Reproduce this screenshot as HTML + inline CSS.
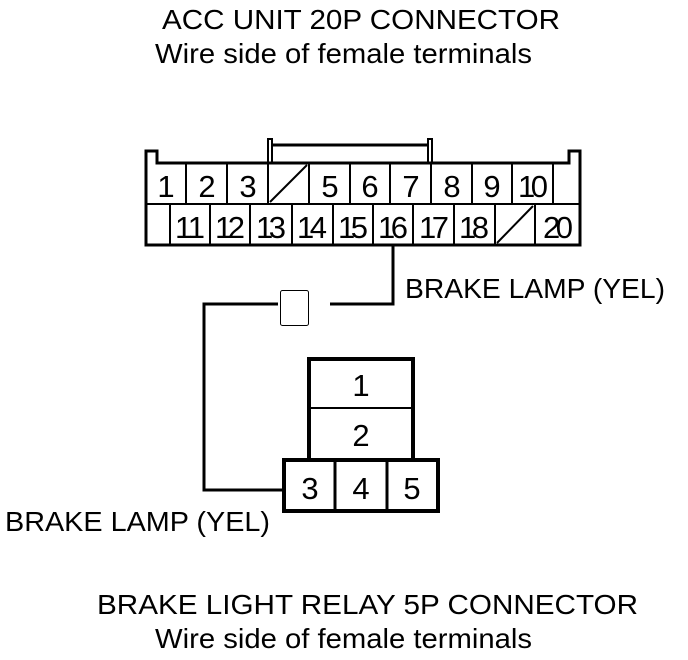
<!DOCTYPE html>
<html><head><style>html,body{margin:0;padding:0;background:#fff}svg{display:block}</style></head><body>
<svg width="688" height="660" viewBox="0 0 688 660" xmlns="http://www.w3.org/2000/svg" font-family="Liberation Sans, Arial, sans-serif" fill="#000">
<g font-size="28">
<text x="162" y="29" textLength="398" lengthAdjust="spacingAndGlyphs">ACC UNIT 20P CONNECTOR</text>
<text x="155" y="63" textLength="377" lengthAdjust="spacingAndGlyphs">Wire side of female terminals</text>
<text x="405" y="298" textLength="260" lengthAdjust="spacingAndGlyphs">BRAKE LAMP (YEL)</text>
<text x="5" y="531" textLength="265" lengthAdjust="spacingAndGlyphs">BRAKE LAMP (YEL)</text>
<text x="97" y="614" textLength="541" lengthAdjust="spacingAndGlyphs">BRAKE LIGHT RELAY 5P CONNECTOR</text>
<text x="155" y="648" textLength="377" lengthAdjust="spacingAndGlyphs">Wire side of female terminals</text>
</g>
<g stroke="#000" fill="none">
<path d="M146 245 V151 H157 V163 H569 V151 H580 V245 Z" stroke-width="3"/>
<path d="M268 163 V139 H272 V163 M428 163 V139 H432 V163" stroke-width="2"/>
<path d="M272 145 H428" stroke-width="3"/>
<path d="M146 204 H580" stroke-width="2"/>
<path d="M186 163V204M227 163V204M268 163V204M309 163V204M350 163V204M390 163V204M431 163V204M472 163V204M512 163V204M553 163V204" stroke-width="2"/>
<path d="M170 204V245M210 204V245M250 204V245M292 204V245M333 204V245M373 204V245M413 204V245M454 204V245M495 204V245M535 204V245" stroke-width="2"/>
<path d="M270 202 L307 165 M497 243 L533 206" stroke-width="2"/>
<path d="M393 245 V304 H330 M278 304 H204 V490 H284" stroke-width="3"/>
<rect x="280.5" y="290.5" width="28" height="35" rx="2" stroke-width="1"/>
<rect x="309" y="359" width="104" height="101" stroke-width="4"/>
<path d="M309 408 H413" stroke-width="2"/>
<rect x="284" y="460" width="154" height="51" stroke-width="4"/>
<path d="M335 460 V511 M387 460 V511" stroke-width="3"/>
</g>
<g font-size="31" text-anchor="middle" lengthAdjust="spacingAndGlyphs">
<text x="166" y="197" textLength="14">1</text><text x="207" y="197" textLength="15">2</text><text x="248" y="197" textLength="15">3</text>
<text x="330" y="197" textLength="15">5</text><text x="370" y="197" textLength="15">6</text><text x="411" y="197" textLength="15">7</text>
<text x="452" y="197" textLength="15">8</text><text x="492" y="197" textLength="15">9</text><text x="533" y="197" textLength="30">10</text>
<text x="190" y="238" textLength="30">11</text><text x="230" y="238" textLength="30">12</text><text x="271" y="238" textLength="30">13</text>
<text x="312" y="238" textLength="30">14</text><text x="353" y="238" textLength="30">15</text><text x="393" y="238" textLength="30">16</text>
<text x="434" y="238" textLength="30">17</text><text x="474" y="238" textLength="30">18</text><text x="558" y="238" textLength="30">20</text>
<text x="361" y="396" textLength="15">1</text><text x="361" y="446" textLength="15">2</text>
<text x="310" y="499" textLength="15">3</text><text x="361" y="499" textLength="15">4</text><text x="412" y="499" textLength="15">5</text>
</g>
</svg>
</body></html>
